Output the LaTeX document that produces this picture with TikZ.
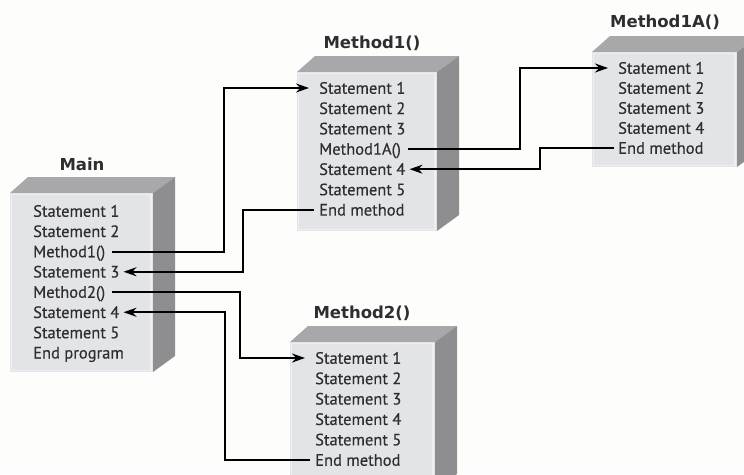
\documentclass[tikz,border=0pt]{standalone}
\usepackage{fontspec}
\setmainfont{PT Sans}[FakeBold=0.35]
\newfontfamily\titlefont{DejaVu Sans Bold}
\usetikzlibrary{arrows.meta}
\definecolor{frontc}{HTML}{E3E4E8}
\definecolor{frontl}{HTML}{EEEFF1}
\definecolor{topc}{HTML}{A8A8AA}
\definecolor{sidec}{HTML}{8E8E91}
\definecolor{bgc}{HTML}{FDFDFB}
\definecolor{txtc}{HTML}{2E2E30}
\newcommand\codebox[4]{%
  \fill[topc] (#1,#2) -- (#1+18,#2-16) -- (#3+22,#2-16) -- (#3,#2) -- cycle;
  \fill[sidec] (#3,#2) -- (#3+22,#2-16) -- (#3+22,#4-16) -- (#3,#4) -- cycle;
  \fill[frontc] (#1,#2) rectangle (#3,#4);
  \draw[frontl, line width=1.5pt] (#1+1.5,#2+1.5) rectangle (#3-2,#4-1.5);
}
\tikzset{
  line/.style={text=txtc, font=\fontsize{16.5}{16.5}\selectfont, anchor=west,
    inner xsep=4pt, inner ysep=0pt, text height=11.5pt, text depth=0pt},
  title/.style={font=\fontsize{16.5}{16.5}\titlefont, text=txtc},
  conn/.style={line width=2pt, -{Stealth[length=13pt,width=9pt]}}
}
\begin{document}
\begin{tikzpicture}[x=1pt,y=-1pt]
\fill[bgc] (0,0) rectangle (744,474);
\useasboundingbox (0,0) rectangle (744,474);
% boxes
\codebox{10}{193}{153}{372}
\codebox{297}{72}{437}{231}
\codebox{592}{52}{737}{167}
\codebox{290}{342}{435}{490}
% titles
\node[title] (tmain) at (82,164) {Main};
\node[title] (tm1) at (372,43) {Method1()};
\node[title] (tm1a) at (665,22) {Method1A()};
\node[title] (tm2) at (362,313) {Method2()};
% Main lines
\foreach \t [count=\i from 0] in {Statement 1,Statement 2,Method1(),Statement 3,Method2(),Statement 4,Statement 5,End program}
  \node[line] (ma\the\numexpr\i+1\relax) at (29,211+20.25*\i) {\t};
% Method1 lines
\foreach \t [count=\i from 0] in {Statement 1,Statement 2,Statement 3,Method1A(),Statement 4,Statement 5,End method}
  \node[line] (mb\the\numexpr\i+1\relax) at (315,88+20.3*\i) {\t};
% Method1A lines
\foreach \t [count=\i from 0] in {Statement 1,Statement 2,Statement 3,Statement 4,End method}
  \node[line] (mc\the\numexpr\i+1\relax) at (614,68+20*\i) {\t};
% Method2 lines
\foreach \t [count=\i from 0] in {Statement 1,Statement 2,Statement 3,Statement 4,Statement 5,End method}
  \node[line] (md\the\numexpr\i+1\relax) at (311,358+20.4*\i) {\t};
% bend coordinates
\coordinate (b1) at (224,0);
\coordinate (b2) at (243,0);
\coordinate (b3) at (240,0);
\coordinate (b4) at (225,0);
\coordinate (b5) at (520,0);
\coordinate (b6) at (540,0);
% connectors
\draw[conn, shorten <=3pt, shorten >=6pt] (ma3.east) -- (ma3.east -| b1) |- (mb1.west);
\draw[conn, shorten <=1pt] (mb7.west) -- (mb7.west -| b2) |- (ma4.east);
\draw[conn, shorten <=3pt, shorten >=6pt] (ma5.east) -- (ma5.east -| b3) |- (md1.west);
\draw[conn, shorten <=1pt] (md6.west) -- (md6.west -| b4) |- (ma6.east);
\draw[conn, shorten <=3pt, shorten >=6pt] (mb4.east) -- (mb4.east -| b5) |- (mc1.west);
\draw[conn] (mc5.west) -- (mc5.west -| b6) |- (mb5.east);
\end{tikzpicture}
\end{document}
